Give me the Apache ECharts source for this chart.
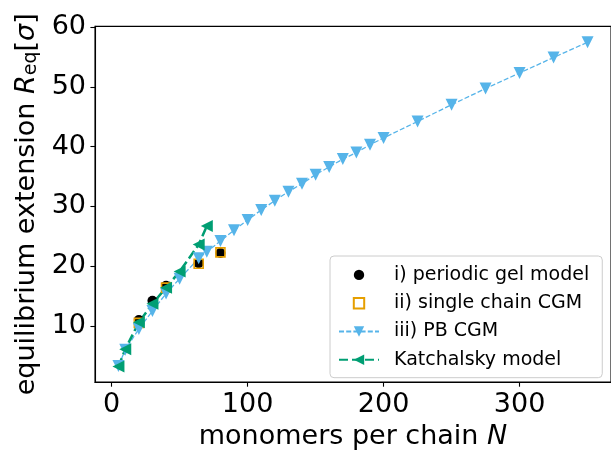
<!DOCTYPE html>
<html lang="en">
<head>
    <meta charset="UTF-8">
    <title>Equilibrium extension</title>
    <script src="https://cdn.jsdelivr.net/npm/echarts@6/dist/echarts.min.js"></script>
</head>
<body style="margin:0;background:#fff;">
<div id="main" style="width: 611px;height:455px;"></div>
<script type="text/javascript">
    // values
    var gelN = [20, 30, 40, 64, 80];
    var gelR = [11.0, 14.2, 16.7, 20.5, 22.2];

    var chainN = [20, 40, 64, 80];
    var chainR = [10.5, 16.4, 20.4, 22.3];

    var pbN = [5, 10, 20, 30, 40, 50, 64, 70, 80, 90, 100, 110, 120, 130, 140, 150,
        160, 170, 180, 190, 200, 225, 250, 275, 300, 325, 350];
    var pbR = [3.3, 6.0, 9.5, 12.5, 15.4, 17.9, 21.3, 22.4, 24.2, 26.0, 27.7, 29.4, 30.95,
        32.45, 33.8, 35.3, 36.6, 37.9, 39.0, 40.3, 41.45, 44.2, 47.0, 49.7, 52.3, 54.9, 57.45];

    var katN = [5, 10, 20, 30, 40, 50, 64, 70];
    var katR = [3.2, 6.1, 10.6, 13.7, 16.4, 19.1, 23.6, 26.7];

    var xTicks = [0, 100, 200, 300];
    var yTicks = [10, 20, 30, 40, 50, 60];

    var names = ['i) periodic gel model', 'ii) single chain CGM', 'iii) PB CGM', 'Katchalsky model'];

    function pairs(xs, ys) {
        return xs.map(function (x, i) { return [x, ys[i]]; });
    }

    var font = 'DejaVu Sans';
    var fs = 27;
    var myChart = echarts.init(document.getElementById('main'));

    // markers only: line series with the line hidden, so the legend keeps marker size
    var noLine = {width: 0, opacity: 0};

    myChart.setOption({
        animation: false,
        textStyle: {fontFamily: font},
        grid: {
            left: 95, top: 26.4, right: -6, bottom: 70.5,
            show: true, borderColor: '#000', borderWidth: 1.1, containLabel: false
        },
        legend: {
            orient: 'vertical',
            left: 330, top: 256,
            padding: [9.4, 13, 8.4, 8],
            itemWidth: 40, itemHeight: 13,
            itemGap: 9.3,
            backgroundColor: 'rgba(255,255,255,0.8)',
            borderColor: '#cccccc', borderWidth: 1, borderRadius: 4,
            textStyle: {fontFamily: font, fontSize: 19, lineHeight: 19, color: '#000', padding: [0, 0, 0, 10]},
            data: names
        },
        xAxis: {
            type: 'value',
            min: -12.25, max: 367.25,
            name: '{t|monomers per chain }{i|N}',
            nameLocation: 'middle',
            nameGap: 36,
            nameTextStyle: {
                rich: {
                    t: {fontFamily: font, fontSize: fs, color: '#000'},
                    i: {fontFamily: font, fontSize: fs, fontStyle: 'italic', color: '#000'}
                }
            },
            splitLine: {show: false},
            axisLine: {onZero: false, lineStyle: {color: '#000', width: 1.1}},
            axisTick: {show: true, inside: false, length: 4.6, customValues: xTicks, lineStyle: {color: '#000', width: 1.1}},
            axisLabel: {customValues: xTicks, margin: 9, fontSize: fs, color: '#000', fontFamily: font}
        },
        yAxis: {
            type: 'value',
            min: 0.6, max: 60.1,
            name: '{t|equilibrium extension }{i|R}{s|eq}{t|[}{i|σ}{t|]}',
            nameLocation: 'middle',
            nameGap: 52,
            nameRotate: 90,
            nameTextStyle: {
                rich: {
                    t: {fontFamily: font, fontSize: fs, color: '#000', verticalAlign: 'bottom', lineHeight: 32},
                    i: {fontFamily: font, fontSize: fs, fontStyle: 'italic', color: '#000', verticalAlign: 'bottom', lineHeight: 32},
                    s: {fontFamily: font, fontSize: 19, color: '#000', verticalAlign: 'bottom', lineHeight: 26}
                }
            },
            splitLine: {show: false},
            axisLine: {onZero: false, lineStyle: {color: '#000', width: 1.1}},
            axisTick: {show: true, inside: false, length: 4.6, customValues: yTicks, lineStyle: {color: '#000', width: 1.1}},
            axisLabel: {customValues: yTicks, margin: 9, fontSize: fs, color: '#000', fontFamily: font}
        },
        series: [
            {
                name: names[0],
                type: 'line',
                symbol: 'circle',
                symbolSize: 10,
                showAllSymbol: true,
                itemStyle: {color: '#000'},
                lineStyle: noLine,
                data: pairs(gelN, gelR)
            },
            {
                name: names[1],
                type: 'line',
                symbol: 'rect',
                symbolSize: 9,
                showAllSymbol: true,
                itemStyle: {color: 'rgba(0,0,0,0)', borderColor: '#E69F00', borderWidth: 1.6},
                lineStyle: noLine,
                data: pairs(chainN, chainR)
            },
            {
                name: names[2],
                type: 'line',
                symbol: 'triangle',
                symbolRotate: 180,
                symbolSize: 12,
                showAllSymbol: true,
                itemStyle: {color: '#56B4E9'},
                lineStyle: {color: '#56B4E9', width: 1.3, type: [5, 2.2]},
                data: pairs(pbN, pbR)
            },
            {
                name: names[3],
                type: 'line',
                symbol: 'triangle',
                symbolRotate: 90,
                symbolSize: 12,
                showAllSymbol: true,
                itemStyle: {color: '#009E73'},
                lineStyle: {color: '#009E73', width: 2.5, type: [9, 4]},
                data: pairs(katN, katR)
            }
        ]
    });
</script>
</body>
</html>
